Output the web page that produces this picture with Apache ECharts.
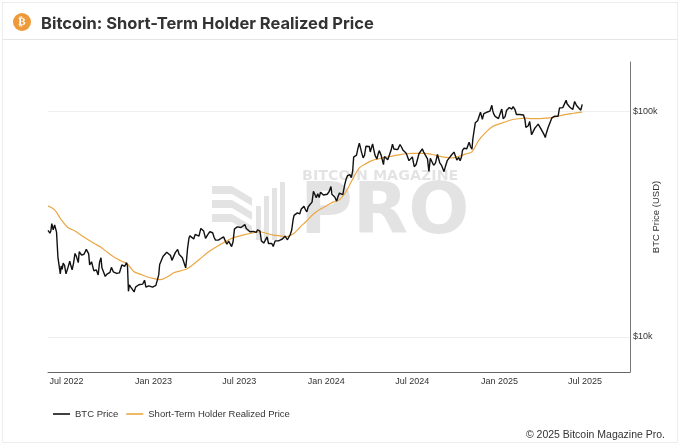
<!DOCTYPE html>
<html>
<head>
<meta charset="utf-8">
<script src="https://cdn.jsdelivr.net/npm/echarts@6/dist/echarts.min.js"></script>
<style>
  html, body { margin: 0; padding: 0; background: #fff; }
  #chart { width: 680px; height: 445px; }
</style>
</head>
<body>
<div id="chart"></div>
<script>
// BTC closes (USD)
const btcPrice = [
  ['2022-05-23', 29600], ['2022-05-25', 29900], ['2022-05-27', 28800], ['2022-05-29', 29400],
  ['2022-05-31', 31700], ['2022-06-03', 29800], ['2022-06-06', 31300], ['2022-06-08', 30200],
  ['2022-06-10', 29100], ['2022-06-13', 22500], ['2022-06-15', 22600], ['2022-06-18', 19000],
  ['2022-06-20', 20600], ['2022-06-22', 19900], ['2022-06-24', 21200], ['2022-06-27', 20700],
  ['2022-06-30', 19000], ['2022-07-02', 19300], ['2022-07-04', 20200], ['2022-07-08', 21600],
  ['2022-07-10', 20800], ['2022-07-13', 19800], ['2022-07-16', 21200], ['2022-07-19', 23400],
  ['2022-07-22', 22700], ['2022-07-26', 21300], ['2022-07-28', 23800], ['2022-07-30', 23800],
  ['2022-08-02', 23000], ['2022-08-04', 22600], ['2022-08-07', 23200], ['2022-08-10', 23900],
  ['2022-08-12', 24400], ['2022-08-14', 24400], ['2022-08-17', 23300], ['2022-08-19', 20800],
  ['2022-08-23', 21500], ['2022-08-26', 20300], ['2022-08-28', 19600], ['2022-09-02', 19800],
  ['2022-09-06', 18800], ['2022-09-09', 21400], ['2022-09-12', 22400], ['2022-09-14', 20200],
  ['2022-09-16', 19700], ['2022-09-18', 19400], ['2022-09-21', 18500], ['2022-09-24', 18900],
  ['2022-09-27', 19100], ['2022-10-01', 19300], ['2022-10-04', 20300], ['2022-10-08', 19400],
  ['2022-10-12', 19100], ['2022-10-15', 19100], ['2022-10-18', 19300], ['2022-10-21', 19200],
  ['2022-10-24', 19300], ['2022-10-26', 20800], ['2022-10-29', 20800], ['2022-11-01', 20500],
  ['2022-11-05', 21300], ['2022-11-07', 20600], ['2022-11-09', 15900], ['2022-11-11', 17000],
  ['2022-11-14', 16600], ['2022-11-18', 16700], ['2022-11-21', 15800], ['2022-11-24', 16600],
  ['2022-11-28', 16400], ['2022-12-01', 17000], ['2022-12-05', 17000], ['2022-12-09', 17100],
  ['2022-12-13', 17800], ['2022-12-16', 16600], ['2022-12-19', 16400], ['2022-12-22', 16800],
  ['2022-12-26', 16900], ['2022-12-30', 16600], ['2023-01-02', 16700], ['2023-01-06', 16900],
  ['2023-01-09', 17200], ['2023-01-12', 18800], ['2023-01-14', 20900], ['2023-01-18', 20700],
  ['2023-01-21', 22700], ['2023-01-25', 23000], ['2023-01-29', 23700], ['2023-02-02', 23700],
  ['2023-02-06', 22900], ['2023-02-09', 21800], ['2023-02-13', 21800], ['2023-02-16', 23600],
  ['2023-02-21', 24400], ['2023-02-24', 23200], ['2023-02-27', 23500], ['2023-03-03', 22400],
  ['2023-03-06', 22400], ['2023-03-10', 20200], ['2023-03-12', 22100], ['2023-03-14', 24700],
  ['2023-03-17', 27400], ['2023-03-19', 28000], ['2023-03-23', 28300], ['2023-03-27', 27100],
  ['2023-03-30', 28400], ['2023-04-03', 28200], ['2023-04-07', 27900], ['2023-04-11', 30200],
  ['2023-04-14', 30500], ['2023-04-17', 29400], ['2023-04-21', 27300], ['2023-04-26', 28400],
  ['2023-04-30', 29200], ['2023-05-03', 28700], ['2023-05-06', 28900], ['2023-05-09', 27600],
  ['2023-05-12', 26800], ['2023-05-18', 26800], ['2023-05-23', 27200], ['2023-05-29', 27700],
  ['2023-06-01', 26800], ['2023-06-05', 25700], ['2023-06-09', 26500], ['2023-06-15', 25100],
  ['2023-06-18', 26300], ['2023-06-21', 30000], ['2023-06-24', 30500], ['2023-06-27', 30700],
  ['2023-06-30', 30500], ['2023-07-05', 30500], ['2023-07-09', 30200], ['2023-07-13', 31400],
  ['2023-07-16', 30200], ['2023-07-20', 29900], ['2023-07-24', 29200], ['2023-07-27', 29300],
  ['2023-07-31', 29300], ['2023-08-03', 29200], ['2023-08-06', 29000], ['2023-08-09', 29800],
  ['2023-08-14', 29400], ['2023-08-17', 26600], ['2023-08-22', 26000], ['2023-08-25', 26100],
  ['2023-08-29', 27700], ['2023-09-01', 25900], ['2023-09-05', 25700], ['2023-09-08', 25900],
  ['2023-09-11', 25100], ['2023-09-15', 26600], ['2023-09-18', 26800], ['2023-09-22', 26600],
  ['2023-09-26', 26200], ['2023-09-29', 27000], ['2023-10-02', 27500], ['2023-10-06', 27900],
  ['2023-10-11', 26900], ['2023-10-14', 26900], ['2023-10-17', 28400], ['2023-10-20', 29700],
  ['2023-10-23', 33000], ['2023-10-25', 34500], ['2023-10-28', 34500], ['2023-11-01', 35400],
  ['2023-11-06', 35000], ['2023-11-09', 36700], ['2023-11-12', 37000], ['2023-11-15', 37900],
  ['2023-11-18', 36600], ['2023-11-21', 35800], ['2023-11-24', 37700], ['2023-11-28', 37800],
  ['2023-12-02', 39500], ['2023-12-05', 44100], ['2023-12-08', 44200], ['2023-12-11', 41300],
  ['2023-12-14', 43000], ['2023-12-17', 41400], ['2023-12-20', 43700], ['2023-12-23', 43700],
  ['2023-12-26', 42500], ['2023-12-30', 42100], ['2024-01-03', 42800], ['2024-01-07', 43900],
  ['2024-01-11', 46300], ['2024-01-13', 42800], ['2024-01-16', 42600], ['2024-01-19', 41600],
  ['2024-01-23', 39900], ['2024-01-26', 41800], ['2024-01-29', 43300], ['2024-02-02', 43200],
  ['2024-02-05', 42600], ['2024-02-09', 47100], ['2024-02-12', 49900], ['2024-02-15', 51800],
  ['2024-02-20', 52300], ['2024-02-23', 50700], ['2024-02-26', 54500], ['2024-02-28', 62500],
  ['2024-03-01', 62400], ['2024-03-05', 63800], ['2024-03-08', 68300], ['2024-03-11', 72100],
  ['2024-03-14', 71400], ['2024-03-16', 65300], ['2024-03-19', 62000], ['2024-03-22', 63800],
  ['2024-03-25', 69900], ['2024-03-28', 70700], ['2024-04-01', 69700], ['2024-04-03', 65900],
  ['2024-04-08', 71600], ['2024-04-10', 70600], ['2024-04-13', 63800], ['2024-04-17', 61300],
  ['2024-04-20', 64900], ['2024-04-22', 66800], ['2024-04-26', 63800], ['2024-05-01', 57900],
  ['2024-05-03', 62900], ['2024-05-06', 63200], ['2024-05-10', 60800], ['2024-05-14', 61600],
  ['2024-05-17', 67000], ['2024-05-20', 71400], ['2024-05-23', 67900], ['2024-05-27', 68500],
  ['2024-05-31', 67500], ['2024-06-05', 71100], ['2024-06-08', 69300], ['2024-06-11', 67300],
  ['2024-06-14', 66000], ['2024-06-18', 65100], ['2024-06-21', 64100], ['2024-06-24', 60300],
  ['2024-06-28', 60300], ['2024-07-01', 62700], ['2024-07-05', 56700], ['2024-07-09', 58000],
  ['2024-07-12', 57900], ['2024-07-15', 64700], ['2024-07-18', 63900], ['2024-07-22', 68000],
  ['2024-07-25', 65800], ['2024-07-29', 66800], ['2024-08-02', 61400], ['2024-08-05', 54000],
  ['2024-08-08', 61700], ['2024-08-12', 59300], ['2024-08-15', 57500], ['2024-08-19', 59000],
  ['2024-08-23', 64200], ['2024-08-25', 64200], ['2024-08-28', 59000], ['2024-09-01', 57300],
  ['2024-09-03', 57500], ['2024-09-06', 53900], ['2024-09-09', 57000], ['2024-09-13', 60500],
  ['2024-09-17', 60300], ['2024-09-20', 63200], ['2024-09-24', 64300], ['2024-09-27', 65800],
  ['2024-09-30', 63300], ['2024-10-03', 60700], ['2024-10-07', 62300], ['2024-10-10', 60300],
  ['2024-10-13', 62800], ['2024-10-15', 67000], ['2024-10-18', 68400], ['2024-10-21', 67400],
  ['2024-10-24', 68100], ['2024-10-29', 72700], ['2024-11-01', 69500], ['2024-11-04', 67800],
  ['2024-11-06', 75600], ['2024-11-09', 76600], ['2024-11-11', 88700], ['2024-11-13', 90400],
  ['2024-11-16', 90600], ['2024-11-18', 90500], ['2024-11-22', 98900], ['2024-11-24', 97700],
  ['2024-11-26', 91900], ['2024-11-29', 97400], ['2024-12-02', 95900], ['2024-12-05', 98800],
  ['2024-12-07', 99900], ['2024-12-09', 97400], ['2024-12-12', 100000], ['2024-12-16', 106100],
  ['2024-12-18', 100200], ['2024-12-20', 97200], ['2024-12-23', 94700], ['2024-12-26', 95800],
  ['2024-12-30', 92600], ['2025-01-03', 98100], ['2025-01-06', 102100], ['2025-01-09', 92500],
  ['2025-01-13', 94500], ['2025-01-16', 100500], ['2025-01-20', 102200], ['2025-01-22', 103700],
  ['2025-01-25', 104800], ['2025-01-27', 102100], ['2025-01-30', 104700], ['2025-02-03', 101400],
  ['2025-02-06', 96600], ['2025-02-10', 97400], ['2025-02-13', 96600], ['2025-02-17', 95800],
  ['2025-02-21', 96100], ['2025-02-24', 91500], ['2025-02-26', 84700], ['2025-02-28', 84400],
  ['2025-03-03', 86100], ['2025-03-06', 89900], ['2025-03-10', 78500], ['2025-03-13', 80900],
  ['2025-03-17', 84000], ['2025-03-20', 84200], ['2025-03-24', 87500], ['2025-03-27', 87200],
  ['2025-03-31', 82500], ['2025-04-03', 83200], ['2025-04-06', 78200], ['2025-04-08', 76300],
  ['2025-04-10', 79600], ['2025-04-14', 84500], ['2025-04-18', 84500], ['2025-04-22', 93400],
  ['2025-04-25', 94700], ['2025-04-28', 95000], ['2025-05-02', 96500], ['2025-05-05', 94700],
  ['2025-05-08', 103200], ['2025-05-12', 102800], ['2025-05-15', 103600], ['2025-05-19', 105600],
  ['2025-05-22', 111700], ['2025-05-24', 107800], ['2025-05-26', 109400], ['2025-05-30', 104000],
  ['2025-06-02', 105800], ['2025-06-05', 101600], ['2025-06-09', 110300], ['2025-06-13', 105900],
  ['2025-06-15', 105500], ['2025-06-17', 104600], ['2025-06-22', 100900], ['2025-06-25', 107100]
];

// short-term holder realized price, every two weeks (USD)
const sthPrice = [
  ['2022-05-23', 38000], ['2022-06-06', 36500], ['2022-06-20', 33000], ['2022-07-04', 30500],
  ['2022-07-18', 29500], ['2022-08-01', 28200], ['2022-08-15', 27000], ['2022-08-29', 25900],
  ['2022-09-12', 24900], ['2022-09-26', 23600], ['2022-10-10', 22500], ['2022-10-24', 21700],
  ['2022-11-07', 21000], ['2022-11-21', 19400], ['2022-12-05', 18900], ['2022-12-19', 18400],
  ['2023-01-02', 18100], ['2023-01-16', 17900], ['2023-01-30', 18400], ['2023-02-13', 19200],
  ['2023-02-27', 19600], ['2023-03-13', 20000], ['2023-03-27', 21000], ['2023-04-10', 22200],
  ['2023-04-24', 23500], ['2023-05-08', 24600], ['2023-05-22', 25600], ['2023-06-05', 26600],
  ['2023-06-19', 27500], ['2023-07-03', 28000], ['2023-07-17', 28500], ['2023-07-31', 28900],
  ['2023-08-14', 29200], ['2023-08-28', 28700], ['2023-09-11', 28200], ['2023-09-25', 28000],
  ['2023-10-09', 27800], ['2023-10-23', 28500], ['2023-11-06', 30500], ['2023-11-20', 32500],
  ['2023-12-04', 34800], ['2023-12-18', 36600], ['2024-01-01', 38000], ['2024-01-15', 39500],
  ['2024-01-29', 40500], ['2024-02-12', 44000], ['2024-02-26', 50000], ['2024-03-11', 56000],
  ['2024-03-25', 58500], ['2024-04-08', 60500], ['2024-04-22', 61500], ['2024-05-06', 62500],
  ['2024-05-20', 63200], ['2024-06-03', 64000], ['2024-06-17', 64700], ['2024-07-01', 65000],
  ['2024-07-15', 65000], ['2024-07-29', 65000], ['2024-08-12', 64200], ['2024-08-26', 63200],
  ['2024-09-09', 62300], ['2024-09-23', 62000], ['2024-10-07', 63000], ['2024-10-21', 64500],
  ['2024-11-04', 66000], ['2024-11-18', 74000], ['2024-12-02', 80000], ['2024-12-16', 85000],
  ['2024-12-30', 87500], ['2025-01-13', 89500], ['2025-01-27', 91500], ['2025-02-10', 92500],
  ['2025-02-24', 93000], ['2025-03-10', 92500], ['2025-03-24', 92500], ['2025-04-07', 93000],
  ['2025-04-21', 93500], ['2025-05-05', 95000], ['2025-05-19', 96500], ['2025-06-02', 97500],
  ['2025-06-16', 98500], ['2025-06-25', 99000]
];

const xRange = ['2022-05-23', '2025-10-04'];
const yRange = [6980, 165000];
const monthNames = ['Jan', 'Feb', 'Mar', 'Apr', 'May', 'Jun', 'Jul', 'Aug', 'Sep', 'Oct', 'Nov', 'Dec'];

const chart = echarts.init(document.getElementById('chart'));
const font = 'Liberation Sans, Arial, sans-serif';
const wm = 'rgba(0,0,0,0.11)';

const option = {
  backgroundColor: '#fff',
  animation: false,
  textStyle: { fontFamily: font },
  title: {
    text: 'Bitcoin: Short-Term Holder Realized Price',
    left: 36,
    top: 11,
    textStyle: { fontFamily: 'Inter, sans-serif', fontSize: 16.5, fontWeight: 700, color: '#333' }
  },
  graphic: [
    { type: 'rect', shape: { x: 2.5, y: 2.5, width: 675, height: 440 }, style: { fill: 'none', stroke: '#ececec', lineWidth: 1 }, silent: true },
    { type: 'line', shape: { x1: 3, y1: 39.5, x2: 677, y2: 39.5 }, style: { stroke: '#e6e6e6', lineWidth: 1 }, silent: true },
    { type: 'circle', shape: { cx: 22, cy: 22, r: 9 }, style: { fill: '#EE9A3A' } },
    { type: 'text', x: 22, y: 22, style: { text: '₿', fill: '#fff', font: 'bold 11px DejaVu Sans', align: 'center', verticalAlign: 'middle' } },
    // watermark
    { type: 'text', left: 302, top: 169, z: -1, style: { text: 'BITCOIN MAGAZINE', fill: wm, font: 'bold 14.3px DejaVu Sans' } },
    { type: 'text', left: 300, top: 178, z: -1, style: { text: 'PRO', fill: wm, font: 'bold 72px DejaVu Sans' } },
    { type: 'polygon', z: -1, shape: { points: [[212, 186], [232, 186], [252, 198], [252, 206], [232, 194], [212, 194]] }, style: { fill: wm } },
    { type: 'polygon', z: -1, shape: { points: [[212, 200], [232, 200], [252, 212], [252, 220], [232, 208], [212, 208]] }, style: { fill: wm } },
    { type: 'polygon', z: -1, shape: { points: [[212, 214], [232, 214], [252, 226], [252, 234], [232, 222], [212, 222]] }, style: { fill: wm } },
    { type: 'rect', z: -1, shape: { x: 256, y: 206, width: 5, height: 34 }, style: { fill: wm } },
    { type: 'rect', z: -1, shape: { x: 264, y: 196, width: 5, height: 44 }, style: { fill: wm } },
    { type: 'rect', z: -1, shape: { x: 272, y: 188, width: 5, height: 52 }, style: { fill: wm } },
    { type: 'rect', z: -1, shape: { x: 280, y: 182, width: 5, height: 58 }, style: { fill: wm } },
    { type: 'text', right: 15, top: 430, style: { text: '© 2025 Bitcoin Magazine Pro.', fill: '#333', font: '10.5px ' + font } }
  ],
  legend: {
    left: 48,
    top: 404,
    icon: 'rect',
    itemWidth: 17,
    itemHeight: 1.6,
    itemGap: 8,
    textStyle: { fontSize: 9.5, color: '#333', fontFamily: font },
    data: ['BTC Price', 'Short-Term Holder Realized Price']
  },
  grid: { left: 48, right: 50, top: 62, bottom: 73, outerBoundsMode: 'none' },
  xAxis: {
    type: 'time',
    min: xRange[0],
    max: xRange[1],
    axisLine: { lineStyle: { color: '#666', width: 1 } },
    axisTick: { show: false },
    splitLine: { show: false },
    axisLabel: {
      interval: 0,
      margin: 5,
      fontSize: 9,
      color: '#333',
      hideOverlap: false,
      formatter: function (value) {
        const d = new Date(value);
        if (d.getDate() === 1 && (d.getMonth() === 0 || d.getMonth() === 6) && d.getHours() === 0) {
          return monthNames[d.getMonth()] + ' ' + d.getFullYear();
        }
        return '';
      }
    }
  },
  yAxis: {
    type: 'log',
    logBase: 10,
    position: 'right',
    min: yRange[0],
    max: yRange[1],
    name: 'BTC Price (USD)',
    nameLocation: 'middle',
    nameRotate: 90,
    nameGap: 21,
    nameMoveOverlap: false,
    nameTextStyle: { fontSize: 9.5, color: '#333' },
    axisLine: { show: true, lineStyle: { color: '#777', width: 1 } },
    axisTick: { show: false },
    splitLine: { show: true, showMinLine: false, showMaxLine: false, lineStyle: { color: '#eeeeee', width: 1 } },
    axisLabel: {
      margin: 3,
      fontSize: 9,
      color: '#333',
      showMinLabel: false,
      showMaxLabel: false,
      formatter: function (v) {
        const l = Math.log10(v);
        if (Math.abs(l - Math.round(l)) < 1e-6) return '$' + Math.round(v / 1000) + 'k';
        return '';
      }
    }
  },
  series: [
    {
      name: 'BTC Price',
      type: 'line',
      data: btcPrice,
      symbol: 'none',
      color: '#111',
      lineStyle: { color: '#111', width: 1.4 },
      z: 3
    },
    {
      name: 'Short-Term Holder Realized Price',
      type: 'line',
      data: sthPrice,
      symbol: 'none',
      smooth: 0.3,
      color: '#EBA743',
      lineStyle: { color: '#EBA743', width: 1.2 },
      z: 2
    }
  ]
};

chart.setOption(option);
</script>
</body>
</html>
